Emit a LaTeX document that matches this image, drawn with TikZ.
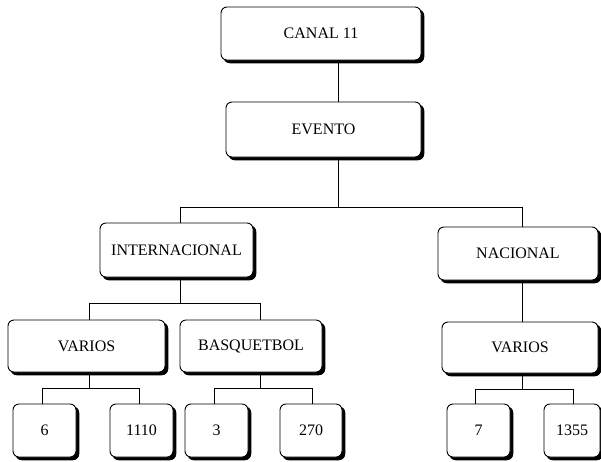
\documentclass[tikz,border=0pt]{standalone}
\usepackage{fontspec}
\setmainfont{Liberation Serif}
\begin{document}
\begin{tikzpicture}[x=1pt,y=-1pt,
  box/.style={draw=black, line width=0.9pt, fill=white, rounded corners=6pt,
    inner sep=0pt, font=\fontsize{16}{18}\selectfont,
    preaction={draw=black, fill=black, transform canvas={shift={(2.8pt,-2.8pt)}}}},
  conn/.style={draw=black, line width=0.8pt}]
\useasboundingbox (0,0) rectangle (601,461);
% nodes
\node[box, minimum width=200pt, minimum height=53pt] (canal) at (321,33.5) {CANAL 11};
\node[box, minimum width=195pt, minimum height=55pt] (evento) at (323.5,129.5) {EVENTO};
\node[box, minimum width=153pt, minimum height=54pt] (intl) at (176.5,250) {INTERNACIONAL};
\node[box, minimum width=160pt, minimum height=53pt] (nac) at (518,253.5) {NACIONAL};
\node[box, minimum width=157pt, minimum height=52pt] (v1) at (86.5,346) {VARIOS};
\node[box, minimum width=142pt, minimum height=52pt] (basq) at (251,346) {BASQUETBOL};
\node[box, minimum width=156pt, minimum height=51pt] (v2) at (520,347.5) {VARIOS};
\node[box, minimum width=63pt, minimum height=53pt] (l6) at (44.5,430.5) {6};
\node[box, minimum width=63pt, minimum height=53pt] (l1110) at (141.5,430.5) {1110};
\node[box, minimum width=63pt, minimum height=53pt] (l3) at (216.5,430.5) {3};
\node[box, minimum width=62pt, minimum height=53pt] (l270) at (311,430.5) {270};
\node[box, minimum width=63pt, minimum height=53pt] (l7) at (478.5,430.5) {7};
\node[box, minimum width=56pt, minimum height=53pt] (l1355) at (572,430.5) {1355};
% junction coordinates
\coordinate (j1) at (338,207);
\coordinate (ji) at (180,207);
\coordinate (jn) at (522,207);
\coordinate (a0) at (180,303);
\coordinate (a1) at (89,303);
\coordinate (a2) at (260,303);
\coordinate (c0) at (522,300);
\coordinate (d0) at (89,388);
\coordinate (d1) at (42,388);
\coordinate (d2) at (139,388);
\coordinate (e0) at (260,388);
\coordinate (e1) at (214,388);
\coordinate (e2) at (312,388);
\coordinate (f0) at (522,389);
\coordinate (f1) at (475,389);
\coordinate (f2) at (573,389);
% connectors
\path[conn] (canal.south -| j1) -- (evento.north -| j1);
\path[conn] (evento.south -| j1) -- (j1);
\path[conn] (intl.north -| ji) -- (ji) -- (jn) -- (nac.north -| jn);
\path[conn] (intl.south -| a0) -- (a0);
\path[conn] (v1.north -| a1) -- (a1) -- (a2) -- (basq.north -| a2);
\path[conn] (nac.south -| c0) -- (v2.north -| c0);
\path[conn] (v1.south -| d0) -- (d0);
\path[conn] (l6.north -| d1) -- (d1) -- (d2) -- (l1110.north -| d2);
\path[conn] (basq.south -| e0) -- (e0);
\path[conn] (l3.north -| e1) -- (e1) -- (e2) -- (l270.north -| e2);
\path[conn] (v2.south -| f0) -- (f0);
\path[conn] (l7.north -| f1) -- (f1) -- (f2) -- (l1355.north -| f2);
\end{tikzpicture}
\end{document}
